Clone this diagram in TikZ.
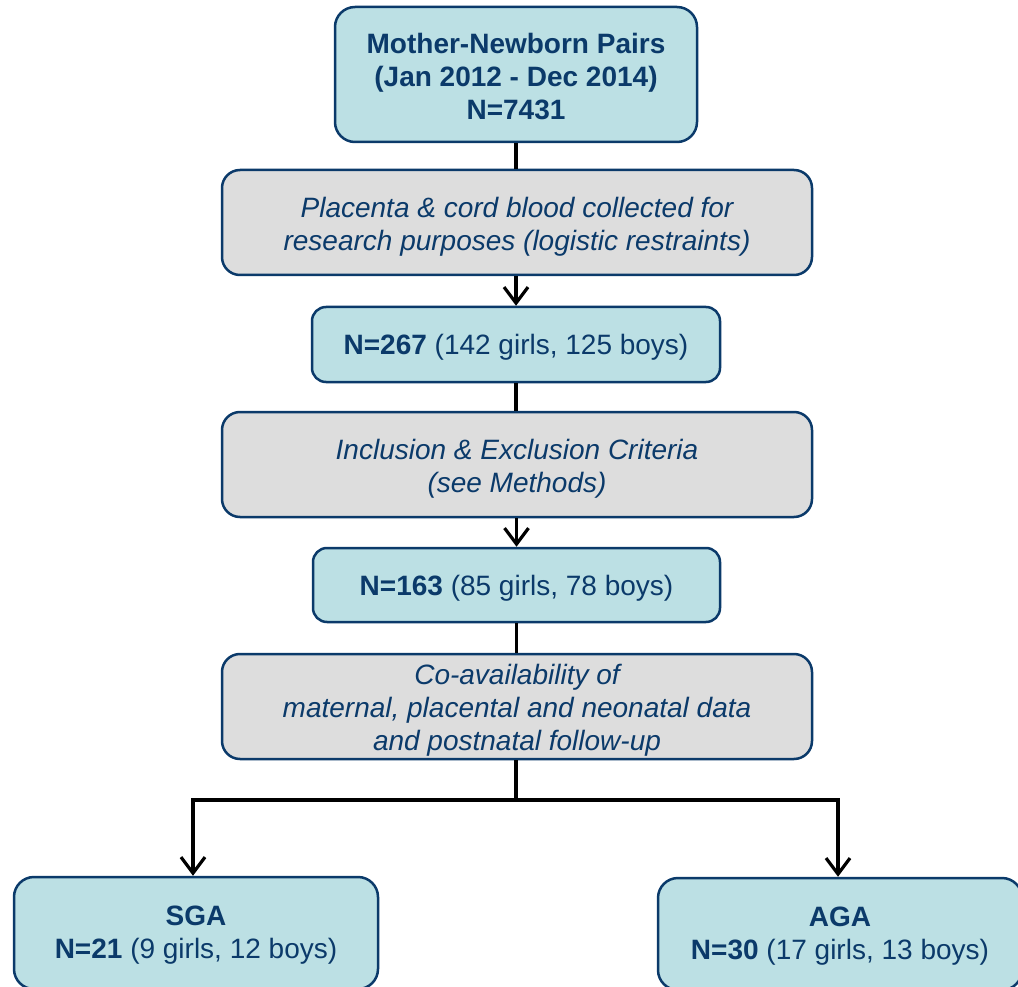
\documentclass[tikz,border=0pt]{standalone}
\usepackage{fontspec}
\setmainfont{Liberation Sans}
\usetikzlibrary{arrows.meta}
\definecolor{boxblue}{HTML}{BCE0E4}
\definecolor{boxgray}{HTML}{DDDDDD}
\definecolor{navy}{HTML}{0B3A6A}
\tikzset{
  bluebox/.style={draw=navy, line width=2.5pt, fill=boxblue, rounded corners=20pt, inner sep=0pt},
  graybox/.style={draw=navy, line width=2.5pt, fill=boxgray, rounded corners=18pt, inner sep=0pt},
  boxtext/.style={text=navy, align=center, inner sep=0pt, font=\fontsize{28}{33}\selectfont},
  graytext/.style={boxtext, font=\fontsize{28}{33}\selectfont\itshape},
  conn/.style={line width=3.2pt, black},
  arr/.style={conn, -{Straight Barb[length=16pt, width=24pt, line width=3.2pt]}},
}
\begin{document}
\begin{tikzpicture}[x=1pt, y=-1pt]
\useasboundingbox (0,0) rectangle (1018,987);
\clip (0,0) rectangle (1018,987);
\node[bluebox, minimum width=362pt, minimum height=135pt] (top) at (516,74.5) {};
\node[boxtext, yshift=-2pt] (toptxt) at (top.center)
  {\bfseries Mother-Newborn Pairs\\ \bfseries (Jan 2012 - Dec 2014)\\ \bfseries N=7431};
\node[graybox, minimum width=590pt, minimum height=105pt] (g1) at (517,222.5) {};
\node[graytext, yshift=-4pt] (g1txt) at (g1.center)
  {Placenta \& cord blood collected for\\ research purposes (logistic restraints)};
\node[bluebox, rounded corners=14pt, minimum width=408pt, minimum height=75pt] (n267) at (516,344.5) {};
\node[boxtext, yshift=-3pt] (n267txt) at (n267.center) {\textbf{N=267} (142 girls, 125 boys)};
\node[graybox, minimum width=590pt, minimum height=105pt] (g2) at (517,464.5) {};
\node[graytext, yshift=-4pt] (g2txt) at (g2.center) {Inclusion \& Exclusion Criteria\\ (see Methods)};
\node[bluebox, rounded corners=14pt, minimum width=407pt, minimum height=74pt] (n163) at (516.5,585) {};
\node[boxtext, yshift=-3pt] (n163txt) at (n163.center) {\textbf{N=163} (85 girls, 78 boys)};
\node[graybox, minimum width=590pt, minimum height=105pt] (g3) at (517,706.5) {};
\node[graytext, yshift=-4pt] (g3txt) at (g3.center)
  {Co-availability of\\ maternal, placental and neonatal data\\ and postnatal follow-up};
\node[bluebox, minimum width=364pt, minimum height=112pt] (sga) at (196,933) {};
\node[boxtext, yshift=-2pt] (sgatxt) at (sga.center) {\textbf{SGA}\\ \textbf{N=21} (9 girls, 12 boys)};
\node[bluebox, minimum width=364pt, minimum height=112pt] (aga) at (840,934) {};
\node[boxtext, yshift=-2pt] (agatxt) at (aga.center) {\textbf{AGA}\\ \textbf{N=30} (17 girls, 13 boys)};
\coordinate (split) at (516,800);
\draw[conn] (top.south) -- (top.south |- g1.north);
\draw[arr] (g1.south -| n267.north) -- (n267.north);
\draw[conn] (n267.south) -- (n267.south |- g2.north);
\draw[arr] (g2.south -| n163.north) -- (n163.north);
\draw[conn] (n163.south) -- (n163.south |- g3.north);
\draw[conn] (g3.south -| split) -- (split);
\draw[arr] (split) -| ([xshift=-3pt]sga.north);
\draw[arr] (split) -| ([xshift=-2pt]aga.north);
\end{tikzpicture}
\end{document}
